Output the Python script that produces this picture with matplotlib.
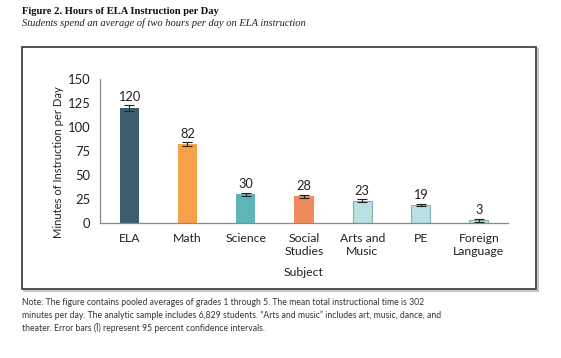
import numpy as np
import matplotlib
matplotlib.use("Agg")
import matplotlib.pyplot as plt
from matplotlib.patches import Rectangle
from matplotlib.lines import Line2D

subjects = ["ELA", "Math", "Science", "Social\nStudies", "Arts and\nMusic", "PE", "Foreign\nLanguage"]
minutes = [120, 82, 30, 28, 23, 19, 3]
ci_half = [3, 2, 1.5, 1.5, 1.5, 1, 1.5]
colors = ["#3d5c6e", "#f6a24b", "#5fb4b8", "#ef8a5f", "#b9e1e3", "#b9e1e3", "#b9e1e3"]
edges = ["none", "none", "none", "none", "#86b0b3", "#86b0b3", "#86b0b3"]
yticks = [0, 25, 50, 75, 100, 125, 150]

SANS = ["Lato", "DejaVu Sans"]
SERIF = ["Liberation Serif", "DejaVu Serif"]
W, H = 561, 358
FS = 8.8

fig = plt.figure(figsize=(W / 100, H / 100), dpi=100)

# chart frame with a light drop shadow
fig.add_artist(Line2D([24 / W, 538 / W], [1 - 291 / H, 1 - 291 / H], color="#bbbbbb", lw=1.2))
fig.add_artist(Line2D([538 / W, 538 / W], [1 - 291 / H, 1 - 49 / H], color="#bbbbbb", lw=1.2))
fig.add_artist(Rectangle((22 / W, 1 - 289 / H), 514 / W, 242 / H, transform=fig.transFigure,
                         fill=False, edgecolor="#333333", lw=1.2))

ax = fig.add_axes([100 / W, 1 - 223 / H, 408 / W, 144 / H])
x = np.arange(len(subjects))
ax.bar(x, minutes, 0.33, color=colors, edgecolor=edges, linewidth=0.8, zorder=2)
ax.errorbar(x, minutes, yerr=ci_half, fmt="none", ecolor="#222222", elinewidth=0.8,
            capsize=3.5, capthick=0.8, zorder=3)
for xi, v, e in zip(x, minutes, ci_half):
    ax.text(xi, v + e + 2.5, str(v), ha="center", va="bottom", fontsize=FS + 0.4,
            family=SANS, color="#222222")

ax.set_xlim(-0.5, len(subjects) - 0.5)
ax.set_ylim(0, 150)
ax.set_yticks(yticks)
ax.set_yticklabels([str(t) for t in yticks], family=SANS, fontsize=FS + 0.6, color="#222222")
ax.set_xticks(x)
ax.set_xticklabels(subjects, family=SANS, fontsize=FS, color="#222222", linespacing=1.25)
ax.tick_params(axis="x", length=0, pad=7)
ax.tick_params(axis="y", length=0, pad=7)
for s in ["top", "right"]:
    ax.spines[s].set_visible(False)
for s in ["left", "bottom"]:
    ax.spines[s].set_color("#8a8a8a")
    ax.spines[s].set_linewidth(0.9)
ax.set_ylabel("Minutes of Instruction per Day", family=SANS, fontsize=8.1, color="#222222")
ax.yaxis.set_label_coords(-36 / 408, 0.42)
ax.set_xlabel("Subject", family=SANS, fontsize=FS, color="#222222", labelpad=7)

fig.text(22 / W, 1 - 11 / H, "Figure 2. Hours of ELA Instruction per Day", family=SERIF,
         fontweight="bold", fontsize=7.6, va="center", ha="left", color="#111111")
fig.text(22 / W, 1 - 23 / H, "Students spend an average of two hours per day on ELA instruction",
         family=SERIF, style="italic", fontsize=7.6, va="center", ha="left", color="#222222")

note = ("Note: The figure contains pooled averages of grades 1 through 5. The mean total instructional time is 302\n"
        "minutes per day. The analytic sample includes 6,829 students. \u201cArts and music\u201d includes art, music, dance, and\n"
        "theater. Error bars (\u012a) represent 95 percent confidence intervals.")
fig.text(22 / W, 1 - 298 / H, note, family=SANS, fontsize=6.2, va="top", ha="left",
         color="#333333", linespacing=1.45)

fig.savefig("out.png", dpi=100)
